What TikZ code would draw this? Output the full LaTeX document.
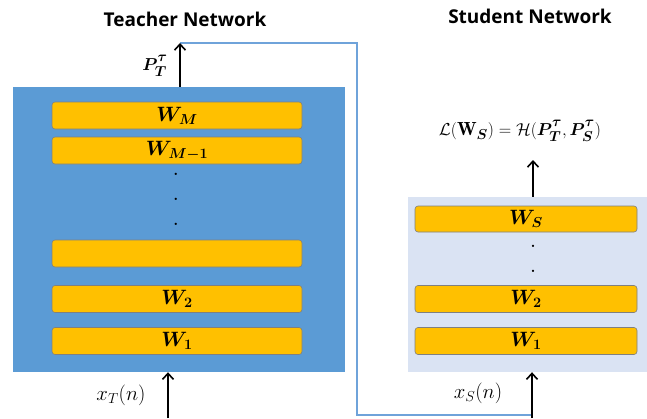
\documentclass[tikz,border=0pt]{standalone}
\usepackage{amsmath,amssymb,bm}
\usepackage{fontspec}
\newfontfamily\titlefont{Open Sans}
\usetikzlibrary{arrows.meta}
\definecolor{tblue}{HTML}{5B9BD5}
\definecolor{sblue}{HTML}{DAE3F3}
\definecolor{bar}{HTML}{FFC000}
\definecolor{barline}{HTML}{7F8080}
\definecolor{lineblue}{HTML}{6FA3DA}
\newcommand{\uptau}{\raisebox{2.5pt}{$\scriptstyle\bm{\tau}$}}
\tikzset{
  bar/.style={draw=barline, line width=0.6pt, fill=bar, rounded corners=3pt, minimum height=27pt, inner sep=0pt},
  tbar/.style={bar, minimum width=250pt},
  sbar/.style={bar, minimum width=222pt},
  wlabel/.style={font=\fontsize{20}{24}\selectfont, inner sep=0pt},
  ttl/.style={font=\titlefont\bfseries\fontsize{19}{22}\selectfont},
  dotnode/.style={font=\fontsize{16}{18}\selectfont\bfseries, inner sep=0pt},
  arr/.style={line width=1.6pt, -{Straight Barb[length=6pt,width=11pt,line width=1.6pt]}},
  conn/.style={draw=lineblue, line width=1.5pt},
  mlabel/.style={font=\fontsize{19}{22}\selectfont, inner sep=0pt},
  xlabel/.style={font=\fontsize{20.5}{24}\selectfont, inner sep=0pt}
}
\begin{document}
\begin{tikzpicture}[x=1pt,y=-1pt]
\useasboundingbox (0,0) rectangle (647,418);
% titles
\node[ttl] (ttitle) at (185,19) {Teacher Network};
\node[ttl] (stitle) at (530,16) {Student Network};
% teacher box
\node[fill=tblue, minimum width=332pt, minimum height=285pt, inner sep=0pt] (T) at (179,229.5) {};
\node[tbar] (tWM) at (177,115.5) {};
\node[wlabel] at (tWM) {$\bm{W}_{\bm{M}}$};
\node[tbar] (tWM1) at (177,150.5) {};
\node[wlabel] at (tWM1) {$\bm{W}_{\bm{M-1}}$};
\node[dotnode] (td1) at (176,174) {.};
\node[dotnode] (td2) at (176,199) {.};
\node[dotnode] (td3) at (176,224) {.};
\node[tbar] (tblank) at (177,253.5) {};
\node[tbar] (tW2) at (177,299) {};
\node[wlabel] at (tW2) {$\bm{W}_{\bm{2}}$};
\node[tbar] (tW1) at (177,341) {};
\node[wlabel] at (tW1) {$\bm{W}_{\bm{1}}$};
% student box
\node[fill=sblue, minimum width=239pt, minimum height=175pt, inner sep=0pt] (S) at (527.5,284.5) {};
\node[sbar, minimum height=26pt] (sWS) at (526,219) {};
\node[wlabel] at (sWS) {$\bm{W}_{\bm{S}}$};
\node[dotnode] (sd1) at (533,246) {.};
\node[dotnode] (sd2) at (533,271) {.};
\node[sbar] (sW2) at (526,299) {};
\node[wlabel] at (sW2) {$\bm{W}_{\bm{2}}$};
\node[sbar] (sW1) at (526,341) {};
\node[wlabel] at (sW1) {$\bm{W}_{\bm{1}}$};
% coordinates
\coordinate (tout) at (180,43);
\coordinate (tin) at (168,418);
\coordinate (sin) at (532,418);
\coordinate (sout) at (533,160);
\coordinate (c1) at (357,43);
\coordinate (c2) at (357,415);
\coordinate (c3) at (532,415);
% connectors
\draw[conn] (tout) -- (c1) -- (c2) -- (c3);
\draw[arr] (T.north -| tout) -- (tout);
\draw[arr] (tin) -- (tin |- T.south);
\draw[arr] (sin) -- (sin |- S.south);
\draw[arr] (S.north -| sout) -- (sout);
% labels
\node[mlabel] (pt) at (155,66) {$\bm{P}^{\uptau}_{\bm{T}}$};
\node[xlabel] (xt) at (121,395) {$x_T(n)$};
\node[xlabel] (xs) at (478,393) {$x_S(n)$};
\node[mlabel] (loss) at (520,131) {$\mathcal{L}(\mathbf{W}_{\bm{S}}) = \mathcal{H}(\bm{P}^{\uptau}_{\bm{T}}, \bm{P}^{\uptau}_{\bm{S}})$};
\end{tikzpicture}
\end{document}
